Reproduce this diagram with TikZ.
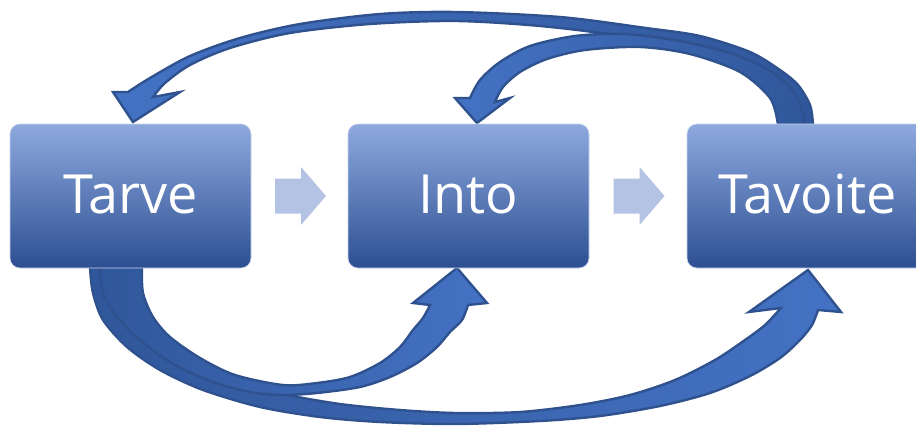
\documentclass[tikz,border=0pt]{standalone}
\usepackage{fontspec}
\setmainfont{Open Sans}
\usetikzlibrary{calc}
\definecolor{boxtop}{HTML}{8DA9DE}
\definecolor{boxmid}{HTML}{3E6DC6}
\definecolor{boxbot}{HTML}{2D4F92}
\definecolor{boxedge}{HTML}{C9D4EC}
\definecolor{flowfill}{HTML}{B4C2E3}
\definecolor{arrowline}{HTML}{2F528F}
\definecolor{arrowlight}{HTML}{4472C4}
\definecolor{arrowdark}{HTML}{30579B}
\begin{document}
\begin{tikzpicture}[x=1pt,y=-1pt,
  stagebox/.style={rounded corners=10pt, minimum width=241pt, minimum height=144pt,
    inner sep=0pt, top color=boxtop, middle color=boxmid, bottom color=boxbot,
    draw=boxedge, line width=0.6pt, text=white, text height=38pt, text depth=4pt,
    font=\fontsize{54}{60}\selectfont},
  flowarrow/.style={fill=flowfill, draw=none},
  loopline/.style={draw=arrowline, line width=2.4pt, line join=miter},
  headleft/.style={loopline, left color=arrowlight, right color=arrowdark},
  headright/.style={loopline, left color=arrowdark, right color=arrowlight},
]
\useasboundingbox (0,0) rectangle (916,426);

% feedback loops over the top (drawn first, their tails hide under the boxes)
\path[headleft]
  plot[smooth] coordinates {(813,132) (813,124) (810,105) (798,85) (780,70) (750,52)
    (700,36) (646,28) (560,17) (456,12) (380,14) (300,24) (240,38) (190,56) (150,78) (128,92)}
  -- (113,92) -- (133,122) -- (180,92) --
  plot[smooth] coordinates {(153,97) (165,83) (190,65) (230,48) (290,33) (370,24)
    (456,21) (540,26) (620,36) (690,52) (740,70) (772,97) (781,124) (781,132)}
  -- cycle;
\path[headleft]
  plot[smooth] coordinates {(805,132) (805,124) (800,104) (788,85) (765,68) (730,53)
    (680,41) (625,34) (575,36) (530,46) (500,62) (480,80) (470,98)}
  -- (455,98) -- (477,123) -- (510,98) --
  plot[smooth] coordinates {(495,102) (503,87) (520,72) (547,59) (585,50) (640,47)
    (690,54) (740,72) (770,98) (778,124) (778,132)}
  -- cycle;

% forward loops underneath
\path[headright]
  plot[smooth] coordinates {(90,262) (90,268) (93,293) (103,320) (127,347) (160,370)
    (203,390) (260,407) (320,417) (380,422) (456,424) (540,421) (600,416) (660,406)
    (710,393) (750,376) (780,358) (800,340) (812,325) (818,310)}
  -- (841,312) -- (808,270) -- (749,312) --
  plot[smooth] coordinates {(781,308) (765,325) (745,340) (715,360) (675,380) (630,395)
    (580,405) (520,412) (456,413) (400,410) (340,404) (283,394) (240,381) (195,361)
    (163,339) (143,316) (133,293) (130,268) (130,262)}
  -- cycle;
\path[headright]
  plot[smooth] coordinates {(142,262) (142,268) (143,293) (153,317) (170,337) (200,358)
    (235,375) (283,385) (317,383) (350,377) (380,363) (400,347) (413,330) (423,318) (430,305)}
  -- (413,303) -- (457,268) -- (487,303) --
  plot[smooth] coordinates {(468,305) (462,320) (450,332) (437,347) (417,363) (390,377)
    (360,387) (317,393) (283,395) (250,392) (210,381) (170,362) (135,336) (112,310)
    (102,290) (100,268) (100,262)}
  -- cycle;

% the three stages
\node[stagebox] (tarve)   at (130.5,196) {Tarve};
\node[stagebox] (into)    at (468.5,196) {Into};
\node[stagebox] (tavoite) at (807.5,196) {Tavoite};

% light block arrows between the stages
\foreach \a/\b/\n in {tarve/into/f1, into/tavoite/f2} {
  \coordinate (\n) at ($(\a.east)!0.5!(\b.west)$);
  \path[flowarrow, shift={(\n)}]
    (-24.5,-17.5) -- (1.5,-17.5) -- (1.5,-29) -- (26.5,0) -- (1.5,29) -- (1.5,17.5)
    -- (-24.5,17.5) -- cycle;
}
\end{tikzpicture}
\end{document}
